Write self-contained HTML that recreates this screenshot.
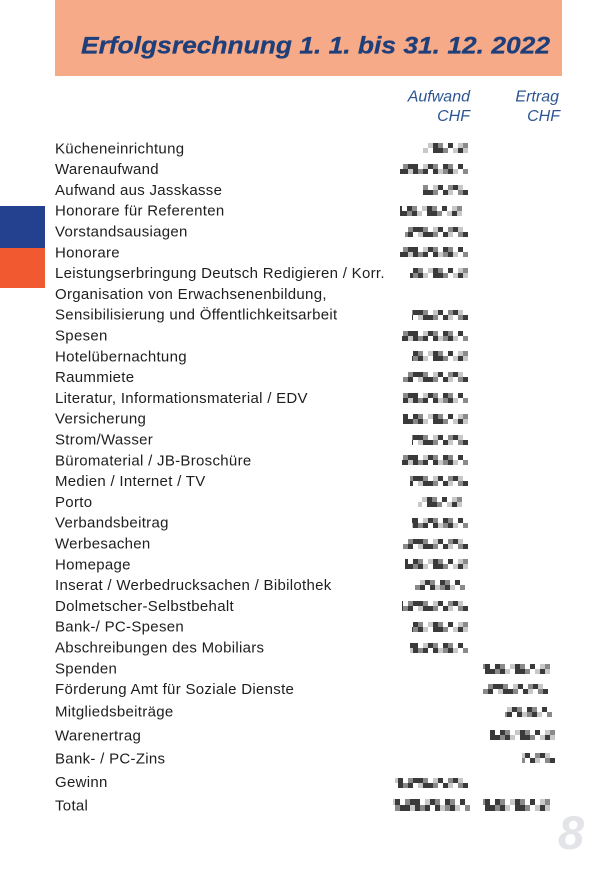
<!DOCTYPE html>
<html><head><meta charset="utf-8"><style>
html,body{margin:0;padding:0;background:#fff;}
svg{display:block;}
.l{font-family:"Liberation Sans",Arial,sans-serif;font-size:15px;fill:#1e1e1e;letter-spacing:0.3px;}
.h{font-family:"Liberation Sans",Arial,sans-serif;font-size:16px;font-style:italic;fill:#2c5592;}
</style></head><body>
<svg width="605" height="873" viewBox="0 0 605 873" xmlns="http://www.w3.org/2000/svg">
<defs>
<g id="pA">
<rect x="0" y="0" width="5" height="5" fill="#e4e4e4"/><rect x="10" y="0" width="5" height="5" fill="#8a8a8a"/><rect x="15" y="0" width="5" height="5" fill="#3a3a3a"/><rect x="25" y="0" width="5" height="5" fill="#3a3a3a"/><rect x="30" y="0" width="5" height="5" fill="#8a8a8a"/><rect x="40" y="0" width="5" height="5" fill="#c8c8c8"/><rect x="45" y="0" width="5" height="5" fill="#3a3a3a"/><rect x="50" y="0" width="5" height="5" fill="#8a8a8a"/><rect x="60" y="0" width="5" height="5" fill="#3a3a3a"/><rect x="70" y="0" width="5" height="5" fill="#c8c8c8"/><rect x="75" y="0" width="5" height="5" fill="#8a8a8a"/>
<rect x="0" y="5" width="5" height="5" fill="#8a8a8a"/><rect x="5" y="5" width="5" height="5" fill="#3a3a3a"/><rect x="15" y="5" width="5" height="5" fill="#3a3a3a"/><rect x="20" y="5" width="5" height="5" fill="#3a3a3a"/><rect x="25" y="5" width="5" height="5" fill="#8a8a8a"/><rect x="30" y="5" width="5" height="5" fill="#3a3a3a"/><rect x="35" y="5" width="5" height="5" fill="#c8c8c8"/><rect x="45" y="5" width="5" height="5" fill="#3a3a3a"/><rect x="50" y="5" width="5" height="5" fill="#3a3a3a"/><rect x="55" y="5" width="5" height="5" fill="#8a8a8a"/><rect x="65" y="5" width="5" height="5" fill="#c8c8c8"/><rect x="70" y="5" width="5" height="5" fill="#3a3a3a"/><rect x="75" y="5" width="5" height="5" fill="#c8c8c8"/>
</g>
<g id="pB">
<rect x="0" y="0" width="5" height="5" fill="#c8c8c8"/><rect x="5" y="0" width="5" height="5" fill="#3a3a3a"/><rect x="15" y="0" width="5" height="5" fill="#8a8a8a"/><rect x="20" y="0" width="5" height="5" fill="#3a3a3a"/><rect x="25" y="0" width="5" height="5" fill="#3a3a3a"/><rect x="35" y="0" width="5" height="5" fill="#c8c8c8"/><rect x="40" y="0" width="5" height="5" fill="#3a3a3a"/><rect x="45" y="0" width="5" height="5" fill="#8a8a8a"/><rect x="55" y="0" width="5" height="5" fill="#3a3a3a"/><rect x="60" y="0" width="5" height="5" fill="#8a8a8a"/><rect x="70" y="0" width="5" height="5" fill="#3a3a3a"/>
<rect x="5" y="5" width="5" height="5" fill="#8a8a8a"/><rect x="10" y="5" width="5" height="5" fill="#3a3a3a"/><rect x="15" y="5" width="5" height="5" fill="#3a3a3a"/><rect x="20" y="5" width="5" height="5" fill="#c8c8c8"/><rect x="25" y="5" width="5" height="5" fill="#3a3a3a"/><rect x="30" y="5" width="5" height="5" fill="#8a8a8a"/><rect x="35" y="5" width="5" height="5" fill="#3a3a3a"/><rect x="45" y="5" width="5" height="5" fill="#3a3a3a"/><rect x="50" y="5" width="5" height="5" fill="#c8c8c8"/><rect x="55" y="5" width="5" height="5" fill="#8a8a8a"/><rect x="60" y="5" width="5" height="5" fill="#3a3a3a"/><rect x="65" y="5" width="5" height="5" fill="#c8c8c8"/><rect x="75" y="5" width="5" height="5" fill="#8a8a8a"/>
</g>
<g id="pC">
<rect x="5" y="0" width="5" height="5" fill="#c8c8c8"/><rect x="10" y="0" width="5" height="5" fill="#3a3a3a"/><rect x="20" y="0" width="5" height="5" fill="#8a8a8a"/><rect x="25" y="0" width="5" height="5" fill="#3a3a3a"/><rect x="30" y="0" width="5" height="5" fill="#3a3a3a"/><rect x="35" y="0" width="5" height="5" fill="#8a8a8a"/><rect x="45" y="0" width="5" height="5" fill="#c8c8c8"/><rect x="50" y="0" width="5" height="5" fill="#3a3a3a"/><rect x="60" y="0" width="5" height="5" fill="#8a8a8a"/><rect x="65" y="0" width="5" height="5" fill="#3a3a3a"/><rect x="70" y="0" width="5" height="5" fill="#c8c8c8"/>
<rect x="0" y="5" width="5" height="5" fill="#8a8a8a"/><rect x="10" y="5" width="5" height="5" fill="#3a3a3a"/><rect x="15" y="5" width="5" height="5" fill="#8a8a8a"/><rect x="20" y="5" width="5" height="5" fill="#3a3a3a"/><rect x="30" y="5" width="5" height="5" fill="#c8c8c8"/><rect x="35" y="5" width="5" height="5" fill="#3a3a3a"/><rect x="40" y="5" width="5" height="5" fill="#3a3a3a"/><rect x="45" y="5" width="5" height="5" fill="#8a8a8a"/><rect x="55" y="5" width="5" height="5" fill="#3a3a3a"/><rect x="60" y="5" width="5" height="5" fill="#c8c8c8"/><rect x="70" y="5" width="5" height="5" fill="#8a8a8a"/><rect x="75" y="5" width="5" height="5" fill="#3a3a3a"/>
</g>
</defs>

<!-- header box -->
<rect x="55" y="0" width="507" height="76" fill="#f6aa88"/>
<text x="81" y="53.5" font-family="Liberation Sans, Arial, sans-serif" font-size="24.5" font-weight="bold" font-style="italic" fill="#1f3f7a" stroke="#1f3f7a" stroke-width="0.3" textLength="469" lengthAdjust="spacingAndGlyphs">Erfolgsrechnung 1. 1. bis 31. 12. 2022</text>

<!-- side blocks -->
<rect x="0" y="206" width="45" height="42" fill="#24418f"/>
<rect x="0" y="248" width="45" height="40" fill="#f15a30"/>

<!-- column headers -->
<text class="h" x="470" y="101.7" text-anchor="end">Aufwand</text>
<text class="h" x="470" y="121" text-anchor="end">CHF</text>
<text class="h" x="559" y="101.7" text-anchor="end">Ertrag</text>
<text class="h" x="560" y="121" text-anchor="end">CHF</text>

<!-- labels -->
<text class="l" x="55" y="153.3">Kücheneinrichtung</text>
<text class="l" x="55" y="174.1">Warenaufwand</text>
<text class="l" x="55" y="194.9">Aufwand aus Jasskasse</text>
<text class="l" x="55" y="215.7">Honorare für Referenten</text>
<text class="l" x="55" y="236.5">Vorstandsausiagen</text>
<text class="l" x="55" y="257.3">Honorare</text>
<text class="l" x="55" y="278.1">Leistungserbringung Deutsch Redigieren / Korr.</text>
<text class="l" x="55" y="298.9">Organisation von Erwachsenenbildung,</text>
<text class="l" x="55" y="319.7">Sensibilisierung und Öffentlichkeitsarbeit</text>
<text class="l" x="55" y="340.5">Spesen</text>
<text class="l" x="55" y="361.3">Hotelübernachtung</text>
<text class="l" x="55" y="382.1">Raummiete</text>
<text class="l" x="55" y="402.9">Literatur, Informationsmaterial / EDV</text>
<text class="l" x="55" y="423.7">Versicherung</text>
<text class="l" x="55" y="444.5">Strom/Wasser</text>
<text class="l" x="55" y="465.3">Büromaterial / JB-Broschüre</text>
<text class="l" x="55" y="486.1">Medien / Internet / TV</text>
<text class="l" x="55" y="506.9">Porto</text>
<text class="l" x="55" y="527.7">Verbandsbeitrag</text>
<text class="l" x="55" y="548.5">Werbesachen</text>
<text class="l" x="55" y="569.3">Homepage</text>
<text class="l" x="55" y="590.1">Inserat / Werbedrucksachen / Bibilothek</text>
<text class="l" x="55" y="610.9">Dolmetscher-Selbstbehalt</text>
<text class="l" x="55" y="631.7">Bank-/ PC-Spesen</text>
<text class="l" x="55" y="652.5">Abschreibungen des Mobiliars</text>
<text class="l" x="55" y="673.3">Spenden</text>
<text class="l" x="55" y="694">Förderung Amt für Soziale Dienste</text>
<text class="l" x="55" y="716.7">Mitgliedsbeiträge</text>
<text class="l" x="55" y="740.3">Warenertrag</text>
<text class="l" x="55" y="763.3">Bank- / PC-Zins</text>
<text class="l" x="55" y="787">Gewinn</text>
<text class="l" x="55" y="810.7">Total</text>

<!-- blurred numbers, Aufwand column -->
<svg x="423" y="143" width="45" height="10" viewBox="35 0 45 10"><use href="#pA"/></svg>
<svg x="400" y="164" width="68" height="10" viewBox="12 0 68 10"><use href="#pB"/></svg>
<svg x="423" y="185" width="45" height="10" viewBox="35 0 45 10"><use href="#pC"/></svg>
<svg x="400" y="206" width="62" height="10" viewBox="18 0 62 10"><use href="#pA"/></svg>
<svg x="405" y="227" width="63" height="10" viewBox="17 0 63 10"><use href="#pC"/></svg>
<svg x="400" y="247" width="68" height="10" viewBox="12 0 68 10"><use href="#pB"/></svg>
<svg x="410" y="268" width="58" height="10" viewBox="22 0 58 10"><use href="#pA"/></svg>
<svg x="412" y="310" width="56" height="10" viewBox="24 0 56 10"><use href="#pC"/></svg>
<svg x="402" y="331" width="66" height="10" viewBox="14 0 66 10"><use href="#pB"/></svg>
<svg x="412" y="351" width="56" height="10" viewBox="24 0 56 10"><use href="#pA"/></svg>
<svg x="403" y="372" width="65" height="10" viewBox="15 0 65 10"><use href="#pC"/></svg>
<svg x="403" y="393" width="65" height="10" viewBox="15 0 65 10"><use href="#pB"/></svg>
<svg x="403" y="414" width="65" height="10" viewBox="15 0 65 10"><use href="#pA"/></svg>
<svg x="412" y="435" width="56" height="10" viewBox="24 0 56 10"><use href="#pC"/></svg>
<svg x="402" y="455" width="66" height="10" viewBox="14 0 66 10"><use href="#pB"/></svg>
<svg x="410" y="476" width="58" height="10" viewBox="22 0 58 10"><use href="#pC"/></svg>
<svg x="418" y="497" width="44" height="10" viewBox="36 0 44 10"><use href="#pA"/></svg>
<svg x="412" y="518" width="56" height="10" viewBox="24 0 56 10"><use href="#pB"/></svg>
<svg x="403" y="539" width="65" height="10" viewBox="15 0 65 10"><use href="#pC"/></svg>
<svg x="405" y="559" width="63" height="10" viewBox="17 0 63 10"><use href="#pA"/></svg>
<svg x="415" y="580" width="50" height="10" viewBox="30 0 50 10"><use href="#pB"/></svg>
<svg x="402" y="601" width="66" height="10" viewBox="14 0 66 10"><use href="#pC"/></svg>
<svg x="412" y="622" width="56" height="10" viewBox="24 0 56 10"><use href="#pA"/></svg>
<svg x="410" y="643" width="58" height="10" viewBox="22 0 58 10"><use href="#pB"/></svg>
<svg x="395" y="778" width="73" height="10" viewBox="7 0 73 10"><use href="#pC"/></svg>
<svg x="393" y="799" width="77" height="12" viewBox="3 0 77 10" preserveAspectRatio="none"><use href="#pB"/></svg>

<!-- blurred numbers, Ertrag column -->
<svg x="483" y="664" width="67" height="10" viewBox="13 0 67 10"><use href="#pA"/></svg>
<svg x="483" y="684" width="65" height="10" viewBox="15 0 65 10"><use href="#pC"/></svg>
<svg x="505" y="707" width="47" height="10" viewBox="33 0 47 10"><use href="#pB"/></svg>
<svg x="490" y="730" width="65" height="10" viewBox="15 0 65 10"><use href="#pA"/></svg>
<svg x="522" y="753" width="33" height="10" viewBox="47 0 33 10"><use href="#pC"/></svg>
<svg x="483" y="799" width="67" height="12" viewBox="13 0 67 10" preserveAspectRatio="none"><use href="#pA"/></svg>

<!-- page number -->
<text x="558" y="849" font-family="Liberation Sans, Arial, sans-serif" font-size="47" font-weight="bold" font-style="italic" fill="#e2e4e8">8</text>
</svg>
</body></html>
